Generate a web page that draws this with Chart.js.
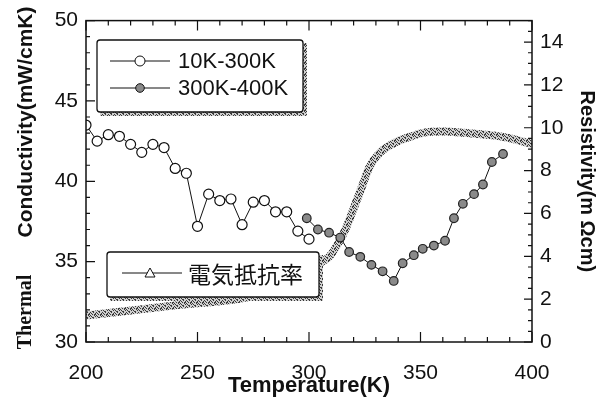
<!DOCTYPE html>
<html>
<head>
<meta charset="utf-8">
<script src="https://cdn.jsdelivr.net/npm/chart.js@4.4.0/dist/chart.umd.min.js"></script>
<style>
  body { margin: 0; background: #fff; }
  #wrap { width: 611px; height: 399px; }
</style>
</head>
<body>
<div id="wrap"><canvas id="chart" width="611" height="399"></canvas></div>
<script>
// 10K-300K run (open circles), left axis
const temps1 = [200, 205, 210, 215, 220, 225, 230, 235, 240, 245, 250, 255, 260, 265, 270, 275, 280, 285, 290, 295, 300];
const cond1 = [43.5, 42.5, 42.9, 42.8, 42.3, 41.8, 42.3, 42.1, 40.8, 40.5, 37.2, 39.2, 38.8, 38.9, 37.3, 38.7, 38.8, 38.1, 38.1, 36.9, 36.4];

// 300K-400K run (filled circles), left axis
const temps2 = [299, 304, 309, 314, 318, 323, 328, 333, 338, 342, 347, 351, 356, 361, 365, 369, 374, 378, 382, 387];
const cond2 = [37.7, 37.0, 36.8, 36.5, 35.6, 35.3, 34.8, 34.4, 33.8, 34.9, 35.4, 35.8, 36.0, 36.3, 37.7, 38.6, 39.2, 39.8, 41.2, 41.7];

// electrical resistivity (thick band), right axis
const temps3 = [200, 240, 273, 291, 304.5, 309, 313.4, 316.4, 319.3, 322.3, 325, 327, 331.3, 338.7, 346.1, 353.6, 361, 368.4, 375.9, 383.4, 390.8, 398.2, 400];
const res3 = [1.23, 1.71, 2.10, 2.67, 3.66, 3.98, 4.66, 5.27, 6.04, 6.85, 7.6, 8.15, 8.79, 9.31, 9.61, 9.80, 9.82, 9.77, 9.71, 9.63, 9.49, 9.29, 9.25];

// axis ranges and ticks
const xTicks = [200, 400, 50];
const yTicks = [30, 50, 5];
const y2Ticks = [0, 15, 2];

const legendLabels = ['10K-300K', '300K-400K', '電気抵抗率'];

// speckled grey like the scan
function makePattern(ctx) {
    const pc = document.createElement('canvas');
    pc.width = 6; pc.height = 6;
    const p = pc.getContext('2d');
    p.fillStyle = '#cfcfcf';
    p.fillRect(0, 0, 6, 6);
    p.fillStyle = '#3a3a3a';
    const dots = [[0, 0], [3, 0], [1, 1], [5, 1], [2, 2], [4, 2], [0, 3], [4, 3], [1, 4], [5, 4], [3, 5], [2, 5], [5, 2]];
    dots.forEach(d => p.fillRect(d[0], d[1], 1, 1));
    return ctx.createPattern(pc, 'repeat');
}

const canvas = document.getElementById('chart');
const ctx = canvas.getContext('2d');
const grey = makePattern(ctx);

Chart.defaults.font.family = '"Liberation Sans", Arial, sans-serif';
Chart.defaults.color = '#111';

// frame plus inward ticks on all four sides
const frameTicks = {
    id: 'frameTicks',
    afterDatasetsDraw(chart) {
        const { ctx, chartArea: a, scales } = chart;
        const x = scales.x, y = scales.y, y2 = scales.y2;
        ctx.save();
        ctx.strokeStyle = '#111';
        ctx.lineWidth = 1.5;
        ctx.strokeRect(a.left, a.top, a.right - a.left, a.bottom - a.top);
        ctx.lineWidth = 1.2;
        ctx.beginPath();
        for (let t = xTicks[0]; t <= xTicks[1]; t += 10) {
            const px = x.getPixelForValue(t);
            const len = t % 50 === 0 ? 10 : 5;
            ctx.moveTo(px, a.bottom); ctx.lineTo(px, a.bottom - len);
            ctx.moveTo(px, a.top); ctx.lineTo(px, a.top + len);
        }
        for (let v = yTicks[0]; v <= yTicks[1]; v += 1) {
            const py = y.getPixelForValue(v);
            const len = v % 5 === 0 ? 9 : 4;
            ctx.moveTo(a.left, py); ctx.lineTo(a.left + len, py);
        }
        for (let v = y2Ticks[0]; v <= y2Ticks[1]; v += 0.5) {
            const py = y2.getPixelForValue(v);
            const len = v % 2 === 0 ? 8 : 4;
            ctx.moveTo(a.right, py); ctx.lineTo(a.right - len, py);
        }
        ctx.stroke();
        ctx.restore();
    }
};

function drawBox(ctx, x, y, w, h) {
    ctx.fillStyle = grey;
    ctx.fillRect(x + 3, y + h, w, 4);
    ctx.fillRect(x + w, y + 3, 4, h + 1);
    ctx.fillStyle = '#fff';
    ctx.fillRect(x, y, w, h);
    ctx.strokeStyle = '#111';
    ctx.lineWidth = 1.3;
    ctx.beginPath();
    ctx.roundRect(x, y, w, h, 3);
    ctx.stroke();
}

// the two legend boxes drawn inside the plot
const legendBoxes = {
    id: 'legendBoxes',
    afterDatasetsDraw(chart) {
        const ctx = chart.ctx;
        ctx.save();
        drawBox(ctx, 97, 40, 206, 72);
        drawBox(ctx, 107, 252, 212, 45);

        ctx.strokeStyle = '#111';
        ctx.lineWidth = 1;
        ctx.textBaseline = 'middle';

        // row 1: open circle
        ctx.beginPath();
        ctx.moveTo(110, 61); ctx.lineTo(170, 61);
        ctx.stroke();
        ctx.beginPath();
        ctx.arc(140, 61, 5, 0, Math.PI * 2);
        ctx.fillStyle = '#fff'; ctx.fill(); ctx.stroke();

        // row 2: filled circle
        ctx.beginPath();
        ctx.moveTo(110, 88); ctx.lineTo(170, 88);
        ctx.stroke();
        ctx.beginPath();
        ctx.arc(140, 88, 4.3, 0, Math.PI * 2);
        ctx.fillStyle = '#8a8a8a'; ctx.fill(); ctx.stroke();

        ctx.fillStyle = '#111';
        ctx.font = '22px "Liberation Sans", Arial, sans-serif';
        ctx.fillText(legendLabels[0], 178, 62);
        ctx.fillText(legendLabels[1], 178, 89);

        // box 2: open triangle
        ctx.beginPath();
        ctx.moveTo(122, 273); ctx.lineTo(182, 273);
        ctx.stroke();
        ctx.beginPath();
        ctx.moveTo(150, 268); ctx.lineTo(155, 277); ctx.lineTo(145, 277); ctx.closePath();
        ctx.fillStyle = '#fff'; ctx.fill(); ctx.stroke();

        ctx.fillStyle = '#111';
        ctx.font = '23px "Noto Sans CJK JP", sans-serif';
        ctx.fillText(legendLabels[2], 188, 274);
        ctx.restore();
    }
};

// left title: serif "Thermal" and sans "Conductivity(...)"
const leftTitle = {
    id: 'leftTitle',
    afterDraw(chart) {
        const ctx = chart.ctx;
        ctx.save();
        ctx.translate(26, 0);
        ctx.rotate(-Math.PI / 2);
        ctx.fillStyle = '#111';
        ctx.textAlign = 'center';
        ctx.textBaseline = 'middle';
        ctx.font = 'bold 21px "Liberation Sans", Arial, sans-serif';
        ctx.fillText('Conductivity(mW/cmK)', -122, 0);
        ctx.font = 'bold 20px "Liberation Serif", serif';
        ctx.fillText('Thermal', -312, 0);
        ctx.restore();
    }
};

new Chart(ctx, {
    type: 'line',
    data: {
        datasets: [
            {
                label: legendLabels[0],
                data: temps1.map((t, i) => ({ x: t, y: cond1[i] })),
                yAxisID: 'y',
                borderColor: '#111',
                borderWidth: 1,
                pointRadius: 5,
                pointBorderWidth: 1.2,
                pointBackgroundColor: '#fff',
                pointBorderColor: '#111',
                order: 1
            },
            {
                label: legendLabels[1],
                data: temps2.map((t, i) => ({ x: t, y: cond2[i] })),
                yAxisID: 'y',
                borderColor: '#111',
                borderWidth: 1,
                pointRadius: 4.3,
                pointBorderWidth: 1.2,
                pointBackgroundColor: '#8a8a8a',
                pointBorderColor: '#222',
                order: 2
            },
            {
                label: legendLabels[2],
                data: temps3.map((t, i) => ({ x: t, y: res3[i] })),
                yAxisID: 'y2',
                borderColor: grey,
                borderWidth: 8,
                pointRadius: 0,
                cubicInterpolationMode: 'monotone',
                order: 3
            }
        ]
    },
    options: {
        responsive: false,
        animation: false,
        layout: { padding: { top: 18, left: 0, right: 0, bottom: 0 } },
        plugins: {
            legend: { display: false },
            tooltip: { enabled: false }
        },
        scales: {
            x: {
                type: 'linear',
                min: xTicks[0],
                max: xTicks[1],
                ticks: { stepSize: xTicks[2], font: { size: 21 }, padding: 19, maxRotation: 0 },
                grid: { display: false, drawTicks: false },
                border: { display: false },
                title: {
                    display: true,
                    text: 'Temperature(K)',
                    font: { size: 22, weight: 'bold' },
                    padding: { top: 0, bottom: 0 }
                },
                afterFit(scale) { scale.height = 57; }
            },
            y: {
                position: 'left',
                min: yTicks[0],
                max: yTicks[1],
                ticks: { stepSize: yTicks[2], font: { size: 21 }, padding: 8 },
                grid: { display: false, drawTicks: false },
                border: { display: false },
                afterFit(scale) { scale.width = 86; }
            },
            y2: {
                position: 'right',
                min: y2Ticks[0],
                max: y2Ticks[1],
                ticks: { stepSize: y2Ticks[2], includeBounds: false, font: { size: 21 }, padding: 8 },
                grid: { display: false, drawTicks: false },
                border: { display: false },
                title: {
                    display: true,
                    text: 'Resistivity(m Ωcm)',
                    font: { size: 20, weight: 'bold' },
                    padding: { top: 12, bottom: 0 }
                },
                afterFit(scale) { scale.width = 79; }
            }
        }
    },
    plugins: [legendBoxes, frameTicks, leftTitle]
});
</script>
</body>
</html>
